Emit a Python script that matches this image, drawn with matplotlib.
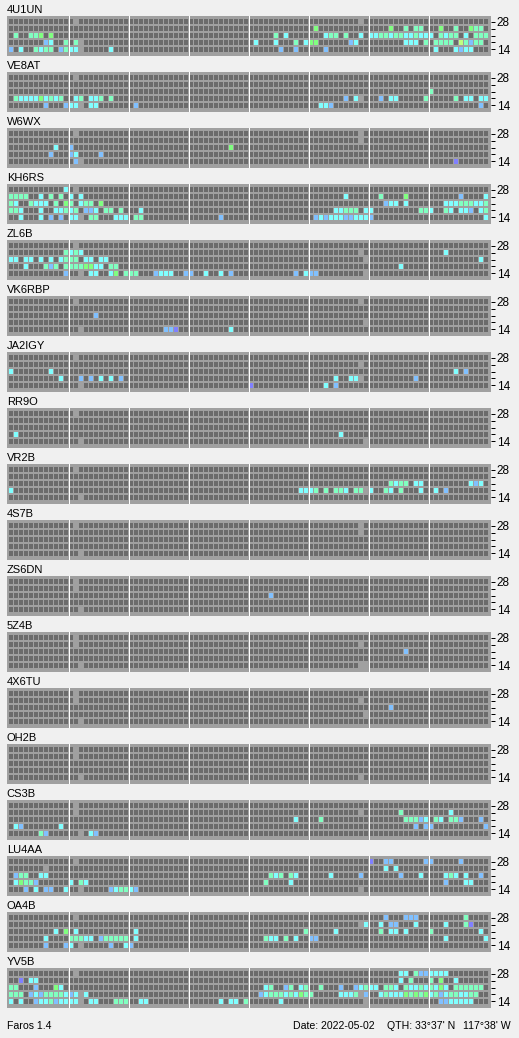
import numpy as np
import matplotlib
matplotlib.use("Agg")
import matplotlib.pyplot as plt

# ---------------- data ----------------
STATIONS = ["4U1UN", "VE8AT", "W6WX", "KH6RS", "ZL6B", "VK6RBP", "JA2IGY", "RR9O",
            "VR2B", "4S7B", "ZS6DN", "5Z4B", "4X6TU", "OH2B", "CS3B", "LU4AA",
            "OA4B", "YV5B"]
BAND_LABELS = ["28", "", "", "", "14"]          # rows top -> bottom (28,24,21,18,14 MHz)
NCOL = 96                                        # time slots

# each station: 5 rows (28 -> 14), tokens "<slot><code>"
# codes: c cyan, a aqua, g green, b blue, p purple, y yellow-green, x no data
g_4U1UN = ["13x 70x",
           "61g 76g 79a 81a 82a 86g 89a 92g 93a 94a",
           "1a 4a 5a 6g 8g 53a 55c 63c 64a 65a 67a 70c 72c 73c 74a 75a 76c 77a 78a 79c 80c 81a 82c 83c 84c 86a 87c 88a 89a 91c 93a 94a 95a",
           "7b 8c 11a 13a 14x 49c 53c 57a 59c 60g 61g 68b 69c 79c 80c 81c 83a 85a 86a 87a 88a 90y 91a 92b 93a 94a",
           "0b 2c 5a 6c 7a 8a 10b 11a 12c 13c 14x 20c 54b 57b 63b 85c 89c 90b 91c 92c"]
g_VE8AT = ["13x",
           "",
           "84a",
           "1a 2c 3c 4c 5c 6g 7c 8a 9c 10a 13c 14a 16c 17c 18a 20a 67b 69c 70x 74b 76c 77c 83a 89a 91c 92c 94c 95c",
           "7b 11b 12c 13c 14x 16c 17c 25b 62c 63c 64b 94b"]
g_W6WX = ["13x 70x", "70x", "9c 12b 44g", "8b 12b 13c 18b", "13b 14x 89p"]
g_KH6RS = ["11c 13x",
           "0a 1a 2a 3a 6c 8a 10a 12c 14c 67c 74a 79g 90b 95c",
           "0a 1c 4a 5c 6c 7c 9a 11g 12a 14c 15a 16a 18g 75b 76c 77c 79c 87c 88c 89c 90a 91a 92a 93c 94c 95a",
           "0a 1a 2c 6c 9c 10c 11a 12c 13a 15b 16b 17c 19a 20a 22a 26c 65c 66c 67a 68a 69a 71c 72c 82a 83a 84c 87a 88c 90c 91c 92b 94c 95a",
           "2c 6c 8b 10b 12c 13c 14x 16a 17a 21c 22c 23c 25a 26a 42b 61b 62c 63b 64c 65c 66c 67b 68b 69c 70c 71c 72b 95c"]
g_ZL6B = ["13x",
          "11a 12c 13a 14c 70x 87c",
          "0c 1c 3c 4c 6c 8c 10c 11a 12a 13a 15c 16c 18c 19c 71x 94c",
          "3c 7a 8b 9a 11a 12a 13a 14a 15g 16g 17c 18c 20a 21a 78c",
          "11b 14x 16c 17c 20c 21g 23a 24a 25a 29b 30c 31c 32c 35b 36b 39c 42c 44b 57b 59c 60b 61b 71x"]
g_VK6RBP = ["13x 70x", "", "17b", "71x", "14x 31b 32b 33p 44c"]
g_JA2IGY = ["13x", "70x", "0c 8c 89c 91b",
            "10c 14b 16b 18c 20c 22b 65c 68c 69c 70x 81b",
            "14x 48p 63c 65b"]
g_RR9O = ["13x", "", "", "1c 66c", "14x 71x"]
g_VR2B = ["13x", "",
          "76a 77c 78a 79a 81c 82c 92c 93b 94c",
          "0c 58c 59c 60c 61a 63a 65a 66a 67c 69a 70a 71x 72c 75a 76c 78a 82c 85c 87b",
          "14x"]
g_4S7B = ["13x 70x", "70x", "", "", "14x"]
g_ZS6DN = ["13x", "13x", "52b", "", "14x"]
g_5Z4B = ["13x", "13x 70x", "79b", "", "14x 70x 71x"]
g_4X6TU = ["13x", "13x 70x", "76b", "71x", "14x"]
g_OH2B = ["13x", "13x", "", "", "14x 70x"]
g_CS3B = ["13x", "13x 70x 78a 88c",
          "57c 62a 79a 80a 81a 82b 83c 85a 86c 88a 89a 90b 94b",
          "1c 2b 10c 81b 83b 84b 95b",
          "6a 7b 14x 16c 17b"]
g_LU4AA = ["13x 72p 75b 76b 83b 84b 90b",
           "7x 75c 77c",
           "1b 2a 3a 6c 7c 52a 53c 54a 56a 57c 64c 70b 78b 82c 87c 88a 89c 91c 94b",
           "1c 2g 3a 4a 5b 12c 14a 15c 51a 56c 87b 91c 92c",
           "3b 5c 7b 8b 11c 14x 20b 21c 22a 23a 24c 25b 70x"]
g_OA4B = ["13x 75b 79b 80b 81b 91a",
          "70x 71c 74c 76b 77b 81c 87c 91a 92p",
          "9c 11g 13c 25c 59a 65c 74a 76c 77c 79c 84a 94c",
          "7c 12a 13a 14a 15c 16c 18b 19a 20a 21a 22a 23a 25c 51a 52c 53c 55a 57c 60b 61b 87c 95c",
          "7b 11b 12c 14x 20b 23c 24b"]
g_YV5B = ["13x 78c 79c 81a 82b 83b 84c 85c 86c 87c",
          "2p 4c 5c 78c 80a 84a 86g 89c",
          "0a 1a 5b 9g 10c 51c 52a 55b 56a 58c 59a 62a 66b 69b 70c 71a 72c 73c 75a 76a 77c 79a 80c 81c 82a 83c 84a 85c 86g 87c 89a 90a 91a 92a 93a 94a",
          "0a 1a 2a 4b 5c 6b 7a 8a 9a 10a 11c 12b 13c 14x 15c 50b 51c 52a 53a 54a 55c 56a 57c 58g 59a 60a 66c 67c 68c 69a 70x 71b 74c 75a 76c 77c 78c 79g 80a 81g 82a 83g 84c 85a 86b 87c 88a 89a 90c 91c 92a 93a",
          "0c 2c 5b 6c 7c 8a 9b 10c 11c 12c 13c 14x 16c 17c 21a 22a 23a 26c 27c 42c 44c 45c 47a 54c 71x 86b 87b 88c 89c 90c 91c 92c"]

GRIDS = [g_4U1UN, g_VE8AT, g_W6WX, g_KH6RS, g_ZL6B, g_VK6RBP, g_JA2IGY, g_RR9O,
         g_VR2B, g_4S7B, g_ZS6DN, g_5Z4B, g_4X6TU, g_OH2B, g_CS3B, g_LU4AA,
         g_OA4B, g_YV5B]

FOOT_LEFT = "Faros 1.4"
FOOT_DATE = "Date: 2022-05-02"
FOOT_QTH1 = "QTH: 33°37' N"
FOOT_QTH2 = "117°38' W"

# ---------------- style ----------------
COLORS = {"c": "#80ffff", "a": "#80ffc0", "g": "#80ff80", "b": "#80c0ff",
          "p": "#8080ff", "y": "#c0ff80", "x": "#a0a0a0"}
EMPTY = "#6b6b6b"
PANEL_BG = "#a0a0a0"
FIG_BG = "#f0f0f0"
FONT = "Liberation Sans"

W, H = 519, 1038
fig = plt.figure(figsize=(W / 100, H / 100), dpi=100, facecolor=FIG_BG)


def parse(rows):
    grid = [[None] * NCOL for _ in rows]
    for r, s in enumerate(rows):
        for tok in s.split():
            grid[r][int(tok[:-1])] = tok[-1]
    return grid


PX = 0.72  # points per pixel
for i, (name, rows) in enumerate(zip(STATIONS, GRIDS)):
    top = 15.7 + 56 * i
    ax = fig.add_axes([6.67 / W, 1 - (top + 40) / H, 484 / W, 40 / H])
    ax.set_facecolor(PANEL_BG)
    for sp in ax.spines.values():
        sp.set_visible(False)
    grid = parse(rows)
    x = np.arange(NCOL)
    nrow = len(grid)
    for r, codes in enumerate(grid):
        y = nrow - 1 - r
        cols = [COLORS.get(c, EMPTY) if c else EMPTY for c in codes]
        ax.bar(x, 0.79, bottom=y - 0.395, width=0.8, color=cols, linewidth=0)
    for j in range(1, 8):
        ax.axvline(12 * j - 0.5, color="white", lw=1.0 * PX)
    ax.set_xlim(-0.93, 95.87)
    ax.set_ylim(-0.886, 4.829)
    ax.set_xticks([])
    ax.yaxis.tick_right()
    ax.set_yticks(range(nrow))
    ax.set_yticklabels(BAND_LABELS[::-1], fontsize=8.5, family=FONT)
    ax.tick_params(axis="y", direction="out", length=4 * PX, width=1 * PX,
                   pad=1.5, colors="black")
    ax.annotate(name, xy=(0, 1), xycoords="axes fraction", xytext=(0, 3 * PX),
                textcoords="offset points", ha="left", va="baseline",
                fontsize=8.0, family=FONT, color="black")

fig.text(6.7 / W, 1 - 1029 / H, FOOT_LEFT, ha="left", va="baseline",
         fontsize=7.6, family=FONT)
fig.text(292.7 / W, 1 - 1029 / H, FOOT_DATE, ha="left", va="baseline",
         fontsize=7.6, family=FONT)
fig.text(387.3 / W, 1 - 1029 / H, FOOT_QTH1, ha="left", va="baseline",
         fontsize=7.6, family=FONT)
fig.text(463.3 / W, 1 - 1029 / H, FOOT_QTH2, ha="left", va="baseline",
         fontsize=7.6, family=FONT)

fig.savefig("out.png", dpi=100, facecolor=FIG_BG)
